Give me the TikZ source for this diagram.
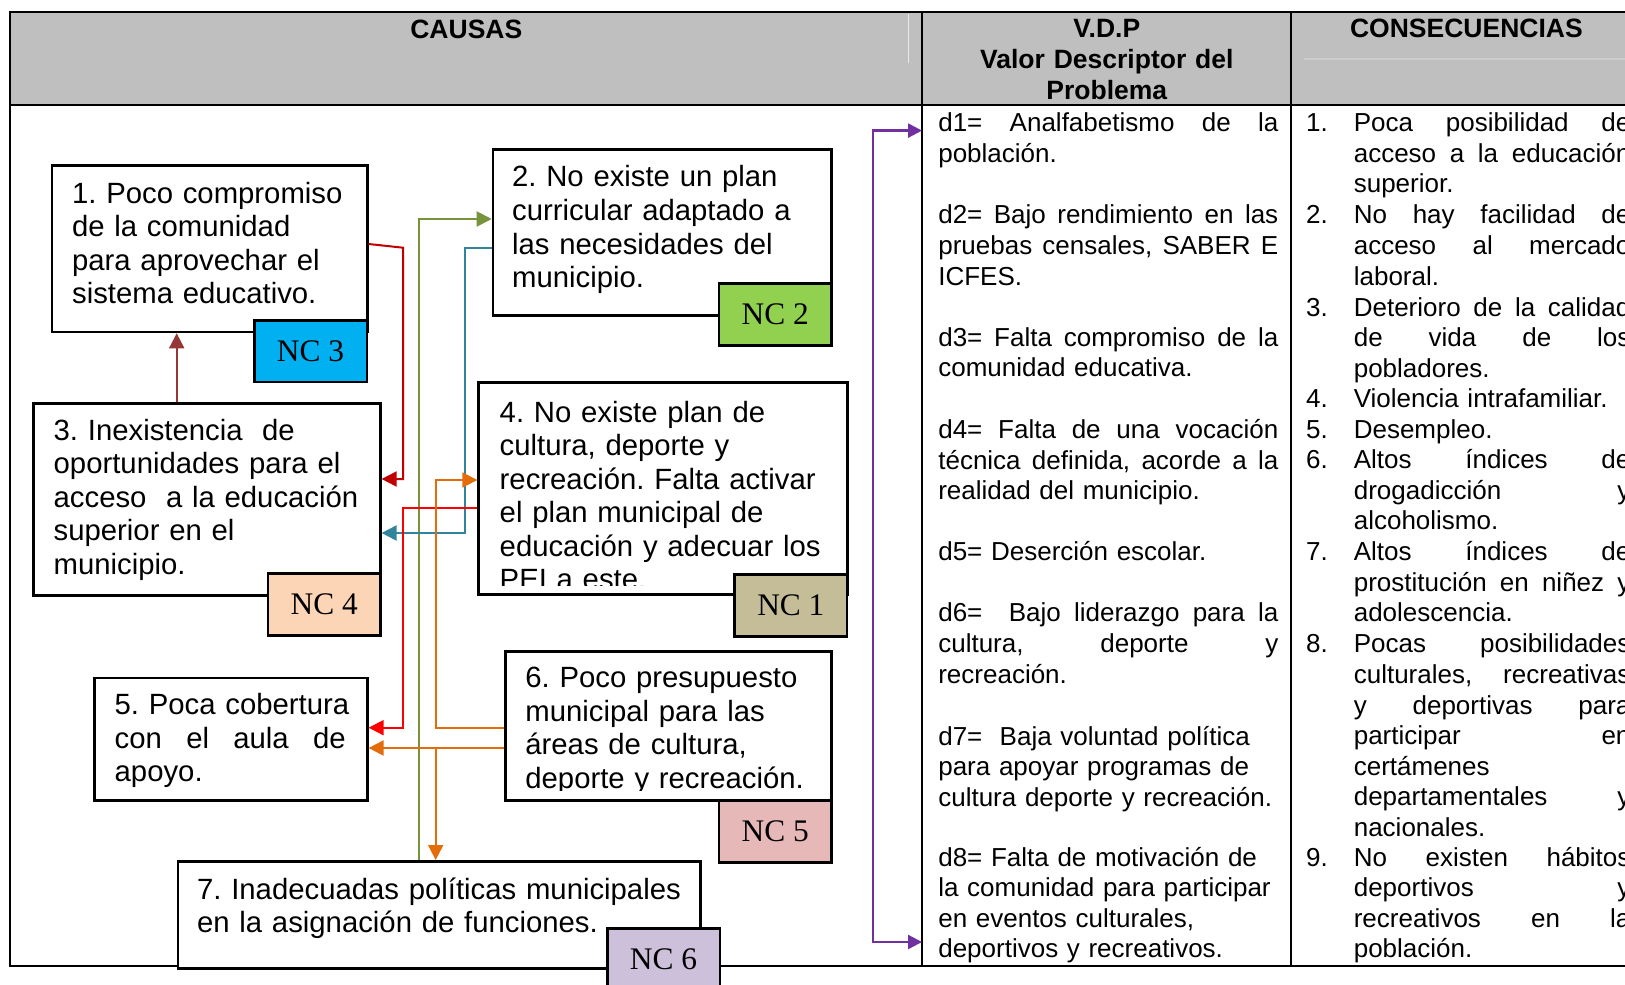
\documentclass[tikz,border=0pt]{standalone}
\usepackage{fontspec}
\setmainfont{Liberation Sans}
\newfontfamily\tnr{Liberation Serif}
\usepackage{tikz}
\usetikzlibrary{calc}
\usetikzlibrary{arrows.meta}

\definecolor{hdrgray}{HTML}{BFBFBF}
\definecolor{ncthree}{HTML}{00B0F0}
\definecolor{nctwo}{HTML}{92D050}
\definecolor{ncfour}{HTML}{FBD5B5}
\definecolor{ncone}{HTML}{C4BD97}
\definecolor{ncfive}{HTML}{E6B9B8}
\definecolor{ncsix}{HTML}{CCC0DA}
\definecolor{brick}{HTML}{953735}
\definecolor{darkred}{HTML}{C00000}
\definecolor{brightred}{HTML}{FF0000}
\definecolor{olive}{HTML}{77933C}
\definecolor{tealblue}{HTML}{31849B}
\definecolor{orangeln}{HTML}{E46C0A}
\definecolor{purp}{HTML}{7030A0}

\newcommand{\jw}[2]{\leavevmode\hbox to #1{\spaceskip=\fontdimen2\font plus 1fill\relax #2}}
\newcommand{\jd}[1]{\jw{170pt}{#1}}
\newcommand{\jc}[1]{\jw{138.3pt}{#1}}
\newcommand{\nm}[1]{\leavevmode\llap{\makebox[23.85pt][l]{#1}}}
\frenchspacing

\begin{document}
\begin{tikzpicture}[x=0.5pt,y=-0.5pt,
  cell/.style={draw,line width=1pt,anchor=north west,inner sep=0pt,outer sep=0pt},
  cbox/.style={draw,line width=1.3pt,fill=white,anchor=north west,inner sep=0pt},
  nctag/.style={draw,line width=1.3pt,anchor=north west,inner sep=0pt,minimum width=56.25pt,minimum height=30.8pt,font=\tnr\fontsize{15.7}{18}\selectfont},
  btxt/.style={anchor=base west,inner sep=0pt,text width=260pt,font=\fontsize{14.65}{16.75}\selectfont},
  ctxt/.style={anchor=base west,inner sep=0pt,font=\fontsize{13}{15.3}\selectfont},
  dtxt/.style={ctxt,text width=170pt},
  ktxt/.style={ctxt,text width=138.3pt},
  htxt/.style={anchor=base,inner sep=0pt,align=center,text width=220pt,font=\bfseries\fontsize{13.25}{15.5}\selectfont},
  conn/.style={line width=1pt,-{Triangle[length=7.5pt,width=7.5pt]}},
  pline/.style={line width=1.2pt,purp,{Triangle[length=7pt,width=7pt]}-{Triangle[length=7pt,width=7pt]}},
  faint/.style={line width=0.7pt,hdrgray!35!white},
]
\useasboundingbox (0,0) rectangle (1625,984);
\clip (0,0) rectangle (1625,984);

\node[cell,fill=hdrgray,minimum width=455.8pt,minimum height=46.15pt] (hcau) at (10.4,12.4) {};
\node[cell,fill=hdrgray,minimum width=184.5pt,minimum height=46.15pt] (hvdp) at (hcau.north east) {};
\node[cell,fill=hdrgray,minimum width=180pt,minimum height=46.15pt] (hcon) at (hvdp.north east) {};
\node[cell,minimum width=455.8pt,minimum height=430.55pt] (bcau) at (hcau.south west) {};
\node[cell,minimum width=184.5pt,minimum height=430.55pt] (bvdp) at (hvdp.south west) {};
\node[cell,minimum width=180pt,minimum height=430.55pt] (bcon) at (hcon.south west) {};
\draw[faint] (908.3,14) -- (908.3,63);
\draw[faint,hdrgray!80!white] (1304,59) -- (1625,59);

\node[htxt] (lcau) at (466.3,38.4) {CAUSAS};
\node[htxt] (lvdp) at (1106.8,37.4) {V.D.P\\Valor Descriptor del\\Problema};
\node[htxt] (lcon) at (1466.4,37.4) {CONSECUENCIAS};

\node[cbox,minimum width=157.65pt,minimum height=83.35pt] (ca1) at (50.7,164) {};
\node[cbox,minimum width=169.15pt,minimum height=82.85pt] (ca2) at (491.7,148.3) {};
\node[cbox,minimum width=173.35pt,minimum height=95.85pt] (ca3) at (32.3,402.3) {};
\node[cbox,minimum width=184.35pt,minimum height=106.15pt] (ca4) at (477.3,381) {};
\node[cbox,minimum width=136.35pt,minimum height=61.3pt] (ca5) at (93.3,676.7) {};
\node[cbox,minimum width=162.85pt,minimum height=74.65pt] (ca6) at (504.3,650) {};
\node[cbox,minimum width=261.3pt,minimum height=53.5pt] (ca7) at (176.7,860) {};

\node[btxt] (tx1) at (71.7,203.3) {1. Poco compromiso\\de la comunidad\\para aprovechar el\\sistema educativo.};
\node[btxt] (tx2) at (511.7,187) {2. No existe un plan\\curricular adaptado a\\las necesidades del\\municipio.};
\node[btxt] (tx3) at (53.3,440) {3. Inexistencia\ \ de\\oportunidades para el\\acceso\ \ a la educación\\superior en el\\municipio.};
\begin{scope}
  \clip (ca4.north west) rectangle ($(ca4.south east)+(0,-10)$);
  \node[btxt] (tx4) at (499.3,422) {4. No existe plan de\\cultura, deporte y\\recreación. Falta activar\\el plan municipal de\\educación y adecuar los\\PEI a este.};
\end{scope}
\node[btxt] (tx5) at (114.3,714.5) {5. Poca cobertura\\\jw{115.5pt}{con el aula de}\\apoyo.};
\begin{scope}
  \clip (ca6.north west) rectangle ($(ca6.south east)+(0,-11)$);
  \node[btxt] (tx6) at (525,687.5) {6. Poco presupuesto\\municipal para las\\áreas de cultura,\\deporte y recreación.};
\end{scope}
\node[btxt] (tx7) at (196.7,899) {7. Inadecuadas políticas municipales\\en la asignación de funciones.};

\node[nctag,fill=ncthree] (nc3) at (253,319) {NC 3};
\node[nctag,fill=nctwo] (nc2) at (717.7,282.3) {NC 2};
\node[nctag,fill=ncfour] (nc4) at (266.7,572.3) {NC 4};
\node[nctag,fill=ncone] (nc1) at (733.3,573.3) {NC 1};
\node[nctag,fill=ncfive] (nc5) at (717.7,799.3) {NC 5};
\node[nctag,fill=ncsix] (nc6) at (606,927.3) {NC 6};

\node[dtxt] (d1) at (937.9,131.7) {\jd{d1= Analfabetismo de la}\\población.};
\node[dtxt] (d2) at (937.9,223.9) {\jd{d2= Bajo rendimiento en las}\\\jd{pruebas censales, SABER E}\\ICFES.};
\node[dtxt] (d3) at (937.9,346.2) {\jd{d3= Falta compromiso de la}\\comunidad educativa.};
\node[dtxt] (d4) at (937.9,438.4) {\jd{d4= Falta de una vocación}\\\jd{técnica definida, acorde a la}\\realidad del municipio.};
\node[dtxt] (d5) at (937.9,560.7) {d5= Deserción escolar.};
\node[dtxt] (d6) at (937.9,621.9) {\jd{d6=\ \ Bajo liderazgo para la}\\\jd{cultura, deporte y}\\recreación.};
\node[dtxt] (d7) at (937.9,745.2) {d7=\ \ Baja voluntad política\\para apoyar programas de\\cultura deporte y recreación.};
\node[dtxt] (d8) at (937.9,866) {d8= Falta de motivación de\\la comunidad para participar\\en eventos culturales,\\deportivos y recreativos.};

\node[ktxt] (co1) at (1353.4,131.7) {\nm{1.}\jc{Poca posibilidad de}\\\jc{acceso a la educación}\\superior.};
\node[ktxt] (co2) at (1353.4,223.9) {\nm{2.}\jc{No hay facilidad de}\\\jc{acceso al mercado}\\laboral.};
\node[ktxt] (co3) at (1353.4,316.1) {\nm{3.}\jc{Deterioro de la calidad}\\\jc{de vida de los}\\pobladores.};
\node[ktxt] (co4) at (1353.4,407.3) {\nm{4.}Violencia intrafamiliar.};
\node[ktxt] (co5) at (1353.4,438.4) {\nm{5.}Desempleo.};
\node[ktxt] (co6) at (1353.4,468.5) {\nm{6.}\jc{Altos índices de}\\\jc{drogadicción y}\\alcoholismo.};
\node[ktxt] (co7) at (1353.4,560.7) {\nm{7.}\jc{Altos índices de}\\\jc{prostitución en niñez y}\\adolescencia.};
\node[ktxt] (co8) at (1353.4,652.9) {\nm{8.}\jc{Pocas posibilidades}\\\jc{culturales, recreativas}\\\jc{y deportivas para}\\\jc{participar en}\\certámenes\\\jc{departamentales y}\\nacionales.};
\node[ktxt] (co9) at (1353.4,866) {\nm{9.}\jc{No existen hábitos}\\\jc{deportivos y}\\\jc{recreativos en la}\\población.};

\coordinate (ax) at (176.7,402);
\coordinate (r0) at (366,244);
\coordinate (r1) at (403,247.7);
\coordinate (r2) at (403,479);
\coordinate (g1) at (419,219);
\coordinate (t1) at (465,247.5);
\coordinate (t2) at (465,533);
\coordinate (e1) at (403,508);
\coordinate (e2) at (403,727.7);
\coordinate (o1) at (435.7,727.7);
\coordinate (o2) at (435.7,480);
\coordinate (o3) at (435.7,748);
\coordinate (pu1) at (873,130.6);
\coordinate (pu2) at (873,942);

\draw[conn,brick] (ca3.north -| ax) -- (ca1.south -| ax);
\draw[conn,darkred] (ca1.east |- r0) -- (r1) -- (r2) -- (ca3.east |- r2);
\draw[conn,olive] (ca7.north -| g1) |- (ca2.west |- g1);
\draw[conn,tealblue] (ca2.west |- t1) -- (t1) -- (t2) -- (ca3.east |- t2);
\draw[conn,brightred] (ca4.west |- e1) -- (e1) -- (e2) -- (ca5.east |- e2);
\draw[conn,orangeln] (ca6.west |- o1) -- (o1) -- (o2) -- (ca4.west |- o2);
\draw[conn,orangeln] (ca6.west |- o3) -- (ca5.east |- o3);
\draw[conn,orangeln] (o3) -- (ca7.north -| o3);
\draw[pline] (bvdp.west |- pu1) -- (pu1) -- (pu2) -- (bvdp.west |- pu2);
\end{tikzpicture}
\end{document}
